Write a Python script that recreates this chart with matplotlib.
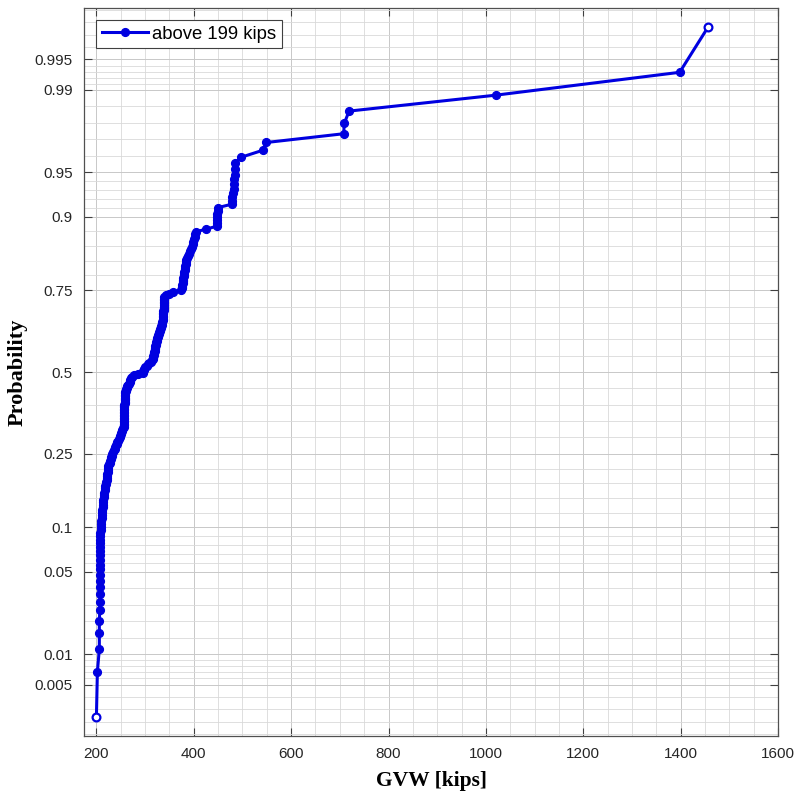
import matplotlib
matplotlib.use('Agg')
import matplotlib.pyplot as plt
from matplotlib.ticker import FixedLocator
from statistics import NormalDist
import numpy as np

# sorted GVW values [kips]
gvw = [200, 202, 206,
       206, 206, 207, 207, 207, 207, 207,
       207, 207, 207, 208, 208, 208, 208, 208, 208, 208, 208,
       209, 209,
       210, 210, 211, 211, 212,
       212, 213, 213, 214, 214, 215,
       216, 216, 217, 218, 218, 219, 220, 221,
       221, 222, 222, 223, 223, 224, 224,
       226, 227, 228, 229,
       230, 232, 233, 235, 236,
       238, 239, 240, 242, 243,
       245, 246, 248,
       249, 250, 251, 252, 253, 255, 256,
       256, 256, 256, 257, 257, 257, 257, 257, 257, 257, 257, 257,
       257, 257, 257, 258, 258, 258, 258, 258, 258, 258, 258,
       259, 260, 261, 262, 263,
       265, 266, 268, 269, 270, 272, 273,
       278, 286, 295,
       296, 297, 298,
       300, 303, 305, 308,
       312, 315,
       316, 317, 317, 318, 318, 319, 320, 320, 321, 321,
       322, 322, 323, 324, 324, 325, 326, 327, 328,
       329, 330, 331, 332, 333, 334, 335,
       335, 336, 336, 336, 337, 337, 337, 337, 338, 338, 338, 338, 338,
       339, 339, 339, 339,
       343, 350, 357, 374,
       375, 376, 376, 377, 377, 378,
       378, 379, 379, 380, 381, 381, 382,
       383, 384, 385,
       387, 389, 391, 393, 395,
       397, 398, 399, 400,
       402, 403, 405,
       426, 447,
       447, 448, 448, 448, 449, 449,
       478, 479, 479, 480,
       482, 483, 483, 484, 484, 485,
       498, 542, 549,
       708, 709, 719,
       1020, 1398, 1456]

prob_ticks = [0.005, 0.01, 0.05, 0.1, 0.25, 0.5, 0.75, 0.9, 0.95, 0.99, 0.995]
prob_tick_labels = ['0.005', '0.01', '0.05', '0.1', '0.25', '0.5', '0.75', '0.9', '0.95', '0.99', '0.995']
# tick set incl. the ones just outside the view, used for the minor grid
prob_grid = [0.001] + prob_ticks + [0.999]
x_ticks = [200, 400, 600, 800, 1000, 1200, 1400, 1600]

nd = NormalDist()
n = len(gvw)
z = [nd.inv_cdf((i - 0.5) / n) for i in range(1, n + 1)]

fig = plt.figure(figsize=(7.94, 7.91), dpi=100)
fig.patch.set_facecolor('white')
ax = fig.add_axes([84 / 794, 1 - 736 / 791, 694 / 794, 728 / 791])

blue = '#0000e0'
ax.plot(gvw, z, '-o', color=blue, lw=2.2, ms=5.6, mfc=blue, mec=blue,
        markevery=list(range(1, n - 1)), label='above 199 kips', zorder=3)
ax.plot([gvw[0], gvw[-1]], [z[0], z[-1]], 'o', ms=5.6, mfc='white', mec=blue,
        mew=1.6, zorder=4)

ax.set_xlim(174.5, 1600)
ax.set_ylim(-3.0, 3.0)

zt = [nd.inv_cdf(p) for p in prob_ticks]
ax.set_yticks(zt)
ax.set_yticklabels(prob_tick_labels)
zg = [nd.inv_cdf(p) for p in prob_grid]
minor_y = []
for a, b in zip(zg[:-1], zg[1:]):
    minor_y += list(np.linspace(a, b, 6)[1:-1])
ax.yaxis.set_minor_locator(FixedLocator(minor_y))

ax.set_xticks(x_ticks)
ax.xaxis.set_minor_locator(FixedLocator(np.arange(250, 1600, 50)))

ax.grid(True, which='major', color='#c8c8c8', lw=0.7, zorder=0)
ax.grid(True, which='minor', color='#d9d9d9', lw=0.6, zorder=0)
ax.set_axisbelow(True)

ax.tick_params(which='major', direction='in', length=6, width=0.8,
               top=True, right=True, color='#404040', labelcolor='#262626',
               labelsize=11, pad=8)
ax.tick_params(which='minor', length=0)
for lab in ax.get_xticklabels() + ax.get_yticklabels():
    lab.set_family('Liberation Sans')
for s in ax.spines.values():
    s.set_color('#505050')
    s.set_linewidth(0.9)

ax.set_xlabel('GVW [kips]', fontsize=15.5, fontweight='bold', family='Liberation Serif')
ax.set_ylabel('Probability', fontsize=16, fontweight='bold', family='Liberation Serif')
ax.xaxis.set_label_coords(0.5, -0.048)
ax.yaxis.set_label_coords(-0.081, 0.5)

leg = ax.legend(loc='upper left', bbox_to_anchor=(0.018, 0.983), borderaxespad=0,
                prop={'family': 'Liberation Sans', 'size': 13.3}, handlelength=2.5,
                handletextpad=0.25, borderpad=0.28, fancybox=False,
                framealpha=1, edgecolor='#404040')
leg.get_frame().set_linewidth(0.8)

fig.savefig('out.png', dpi=100, facecolor='white')
